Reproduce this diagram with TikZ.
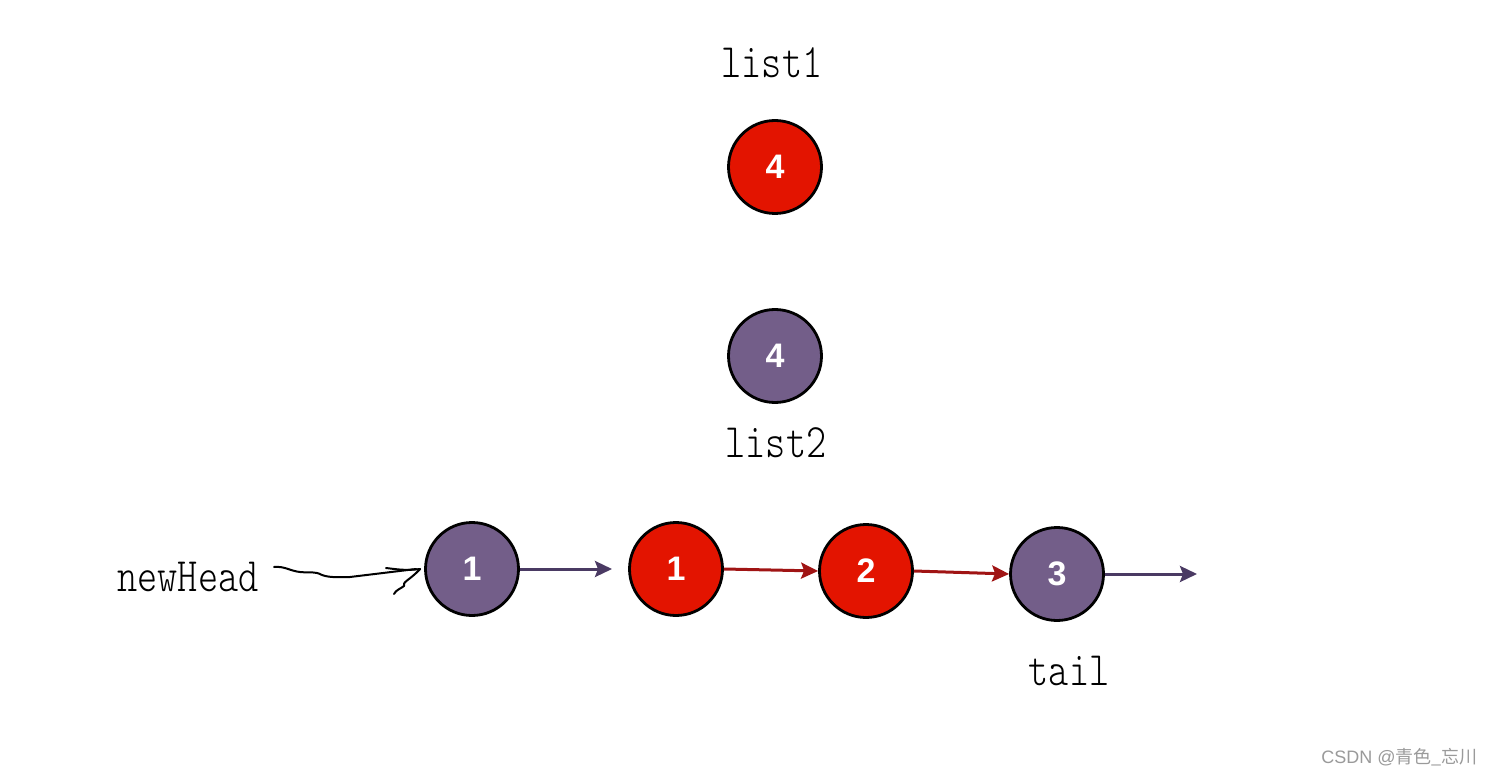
\documentclass[tikz,border=0pt]{standalone}
\usepackage{fontspec}
\usetikzlibrary{arrows.meta}
\newfontfamily\simfont[FakeStretch=0.8]{lmmonolt10-regular.otf}
\newfontfamily\digitfont{Liberation Sans}
\newfontfamily\cjkfont{Noto Sans CJK SC}
\definecolor{nodered}{HTML}{E31400}
\definecolor{nodepurple}{HTML}{735E89}
\definecolor{arrpurple}{HTML}{4A3A63}
\definecolor{arrred}{HTML}{A01414}
\definecolor{wmgrey}{HTML}{9A9A9A}
\tikzset{
  listnode/.style={circle, draw=black, line width=2.8pt, minimum size=93pt, inner sep=0pt,
    text=white, font=\digitfont\bfseries\fontsize{34}{34}\selectfont},
  rednode/.style={listnode, fill=nodered},
  purplenode/.style={listnode, fill=nodepurple},
  lbl/.style={font=\simfont\fontsize{48}{48}\selectfont, text=black, inner sep=0pt},
  parr/.style={draw=arrpurple, line width=3pt, -{Stealth[length=17pt,width=16pt,inset=3pt]}},
  rarr/.style={draw=arrred, line width=3pt, -{Stealth[length=17pt,width=16pt,inset=3pt]}},
  hand/.style={draw=black, line width=2pt, line cap=round, line join=round},
}
\begin{document}
\begin{tikzpicture}[x=1pt,y=-1pt]
\useasboundingbox (0,0) rectangle (1493,775);
\fill[white] (0,0) rectangle (1493,775);

\node[lbl] (l1) at (772,63) {list1};
\node[rednode] (a4) at (775,167) {4};
\node[purplenode] (b4) at (775,356) {4};
\node[lbl] (l2) at (776,443) {list2};

\node[lbl] (nh) at (188,577) {newHead};
\node[purplenode] (p1) at (472,569) {1};
\node[rednode] (r1) at (676,569) {1};
\node[rednode] (r2) at (866,571) {2};
\node[purplenode] (p3) at (1057,574) {3};
\node[lbl] (tl) at (1069,671) {tail};

\coordinate (e1) at (612,569);
\coordinate (e3) at (1197,574);

\draw[parr] (p1.east) -- (e1);
\draw[rarr] (r1.east) -- (r2.west);
\draw[rarr] (r2.east) -- (p3.west);
\draw[parr] (p3.east) -- (e3);

% hand-drawn pointer
\coordinate (hs) at (274,567);
\coordinate (he) at (p1.west);
\draw[hand] (hs) .. controls (285,566) and (290,571) .. (300,572)
  .. controls (310,573) and (315,571) .. (322,575)
  .. controls (330,578) and (340,577) .. (350,577) -- ([xshift=-8pt]he);
\draw[hand] (386,568) .. controls (395,569) and (405,571) .. ([xshift=-4pt]he);
\draw[hand] ([xshift=-4pt]he) .. controls (410,580) and (402,582) .. (404,586)
  .. controls (400,589) and (396,590) .. (394,594);

\node[inner sep=0pt, text=wmgrey, anchor=east] (wm) at (1478,757)
  {\fontsize{18}{18}\selectfont\digitfont CSDN @\cjkfont 青色\_忘川};
\end{tikzpicture}
\end{document}
